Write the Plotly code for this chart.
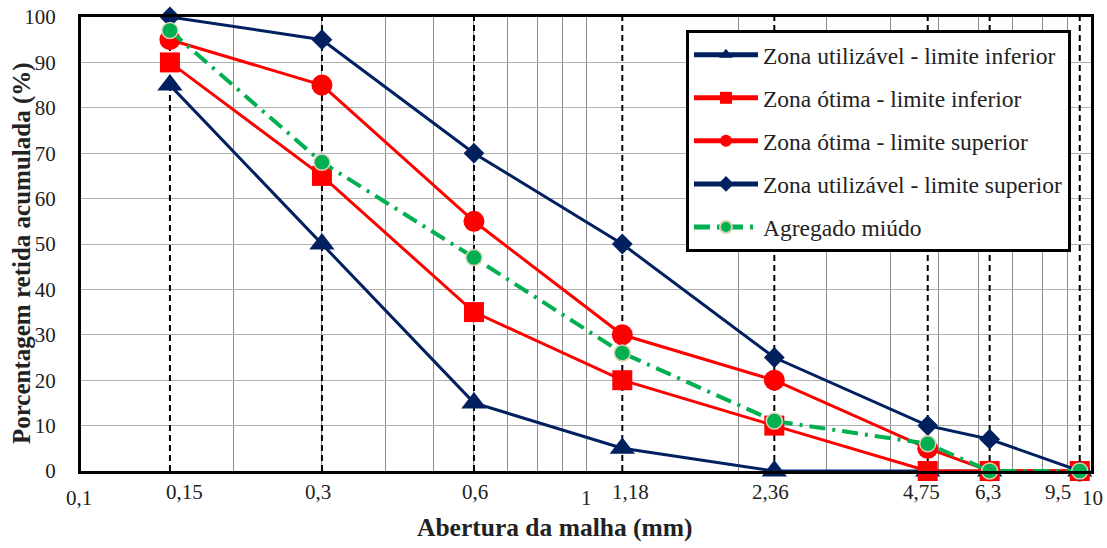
import math
import plotly.graph_objects as go

# Sieve openings (mm) and cumulative retained percentages
aberturas = [0.15, 0.3, 0.6, 1.18, 2.36, 4.75, 6.3, 9.5]
util_inferior = [85, 50, 15, 5, 0, 0, 0, 0]
otima_inferior = [90, 65, 35, 20, 10, 0, 0, 0]
otima_superior = [95, 85, 55, 30, 20, 5, 0, 0]
util_superior = [100, 95, 70, 50, 25, 10, 7, 0]
agregado_miudo = [97, 68, 47, 26, 11, 6, 0, 0]

# X tick labels (value, text)
x_tick_vals = [0.1, 0.15, 0.3, 0.6, 1, 1.18, 2.36, 4.75, 6.3, 9.5, 10]
x_tick_text = ["0,1", "0,15", "0,3", "0,6", "1", "1,18", "2,36", "4,75", "6,3", "9,5", "10"]
y_tick_vals = [0, 10, 20, 30, 40, 50, 60, 70, 80, 90, 100]

# label nudges in pixels (dx, dy) for each x tick label
x_label_nudge = [(-2, -27), (15, -21), (-4, -21), (1, -21), (0, -27), (8, -21),
                 (-4, -21), (-6, -21), (-2, -21), (-22, -21), (1, -27)]

NAVY = "#002060"
RED = "#FF0000"
GREEN = "#00B050"
SERIF = "'Times New Roman', 'Liberation Serif', serif"

# log-scale gridlines for 0.1 .. 10
grid_vals = [m * 10 ** e for e in (-1, 0) for m in range(1, 10)] + [10]

fig = go.Figure()

# dashed reference lines at each sieve opening
for a in aberturas:
    fig.add_trace(go.Scatter(
        x=[a, a], y=[0, 100], mode="lines",
        line=dict(color="black", width=2, dash="6px,4px"),
        showlegend=False, hoverinfo="skip"))

series = [
    ("Zona utilizável - limite inferior", util_inferior, NAVY, "triangle-up", 22, 3),
    ("Zona ótima - limite inferior", otima_inferior, RED, "square", 20, 3),
    ("Zona ótima - limite superior", otima_superior, RED, "circle", 21, 3),
    ("Zona utilizável - limite superior", util_superior, NAVY, "diamond", 16, 3),
]
for i, (name, vals, color, sym, size, lw) in enumerate(series):
    fig.add_trace(go.Scatter(
        x=aberturas, y=vals, name=name, mode="lines+markers",
        line=dict(color=color, width=lw),
        marker=dict(symbol=sym, size=size, color=color),
        legendgroup=f"g{i}", cliponaxis=False))

fig.add_trace(go.Scatter(
    x=aberturas, y=agregado_miudo, name="Agregado miúdo", mode="lines+markers",
    line=dict(color=GREEN, width=4, dash="16px,7px,3px,7px"),
    marker=dict(symbol="circle", size=16, color=GREEN,
                line=dict(color="#d8d2b4", width=1.5)),
    legendgroup="g4", cliponaxis=False))

# x tick labels
for v, t, (dx, dy) in zip(x_tick_vals, x_tick_text, x_label_nudge):
    fig.add_annotation(
        x=math.log10(v), y=0, xref="x", yref="paper", text=t, showarrow=False,
        xanchor="center", yanchor="middle", xshift=dx, yshift=dy,
        font=dict(family=SERIF, size=21, color="#222"))

# axis titles
fig.add_annotation(
    x=0.4693, y=0, xref="paper", yref="paper", text="<b>Abertura da malha (mm)</b>",
    showarrow=False, xanchor="center", yanchor="middle", yshift=-56,
    font=dict(family=SERIF, size=25.5, color="#222"))
fig.add_annotation(
    x=0, y=0.48, xref="paper", yref="paper",
    text="<b>Porcentagem retida acumulada (%)</b>", textangle=-90,
    showarrow=False, xanchor="center", yanchor="middle", xshift=-59,
    font=dict(family=SERIF, size=25, color="#222"))

fig.update_layout(
    width=1107, height=548,
    margin=dict(l=81, r=16, t=17, b=77, autoexpand=False),
    paper_bgcolor="white", plot_bgcolor="white",
    font=dict(family=SERIF, size=21, color="#222"),
    showlegend=True,
    legend=dict(
        x=0.599, y=0.9714, xanchor="left", yanchor="top",
        bgcolor="white", bordercolor="black", borderwidth=3,
        font=dict(family=SERIF, size=23.5, color="#222"),
        itemsizing="constant", itemwidth=64, tracegroupgap=9.5,
        traceorder="grouped"),
    xaxis=dict(
        type="log", range=[-1, 1], automargin=False,
        tickvals=grid_vals, ticktext=[""] * len(grid_vals), ticks="",
        showgrid=True, gridcolor="#8c8c8c", gridwidth=1,
        showline=True, linecolor="black", linewidth=3, mirror=True,
        zeroline=False),
    yaxis=dict(
        range=[0, 100], tickvals=y_tick_vals, ticks="", automargin=False,
        ticklabelstandoff=18,
        showgrid=True, gridcolor="#b0b0b0", gridwidth=1.2,
        showline=True, linecolor="black", linewidth=3, mirror=True,
        zeroline=False, tickfont=dict(family=SERIF, size=21, color="#222")),
)

fig.write_html("out.html")
